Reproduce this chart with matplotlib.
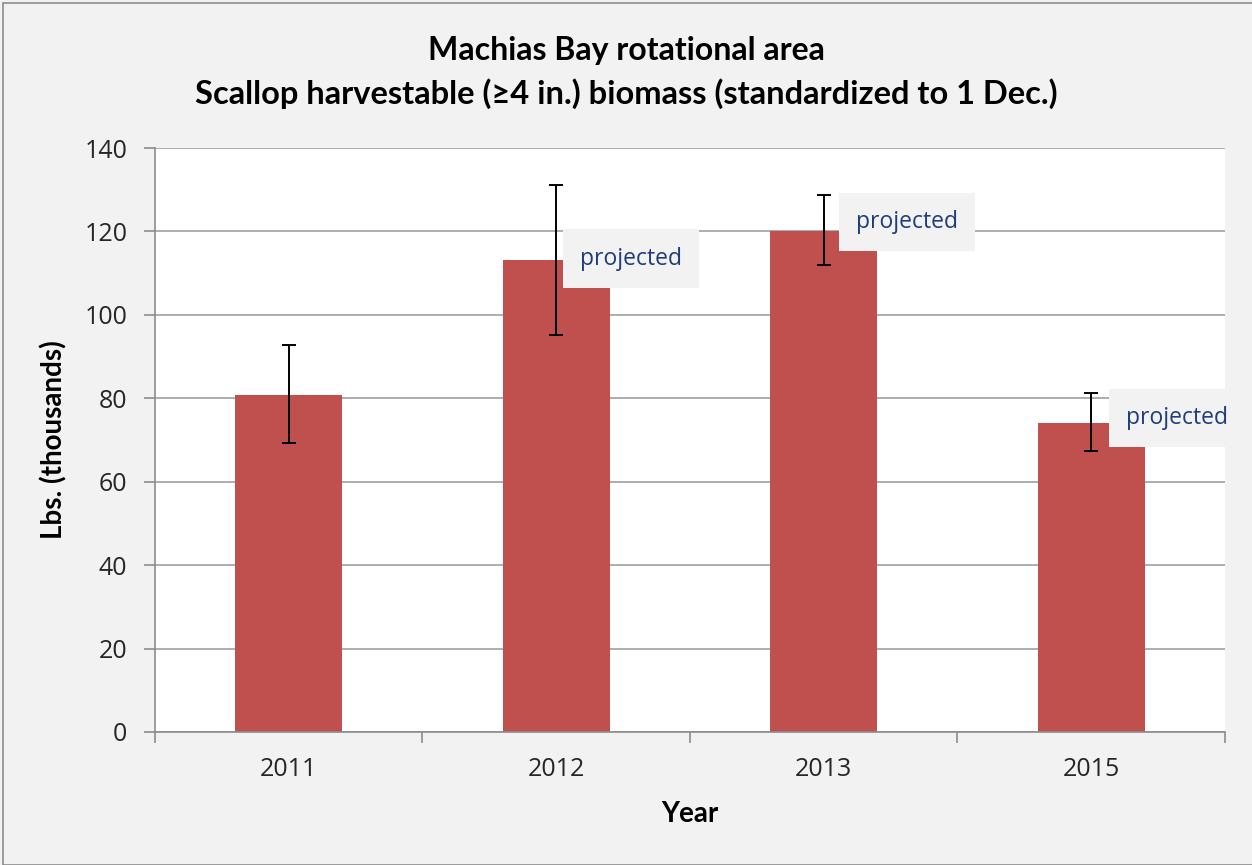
import matplotlib.pyplot as plt
import numpy as np
from matplotlib.patches import Rectangle

years = ['2011', '2012', '2013', '2015']
biomass = [80.8, 113.2, 120.1, 74.1]
err_low = [69.3, 95.2, 112.0, 67.4]
err_high = [92.8, 131.1, 128.7, 81.3]
projected = [False, True, True, True]

x = np.arange(len(years))
yerr = [np.array(biomass) - np.array(err_low), np.array(err_high) - np.array(biomass)]

fig = plt.figure(figsize=(12.52, 8.65), dpi=100)
fig.patch.set_facecolor('#f2f2f2')
fig.patches.append(Rectangle((0.002, 0.0), 1.0, 0.996, transform=fig.transFigure,
                             fill=False, edgecolor='#8c8c8c', lw=1.2))
ax = fig.add_axes([0.1238, 0.1538, 0.8546, 0.6751])
ax.set_facecolor('white')

ax.bar(x, biomass, width=0.4, color='#c0504d', zorder=2)
ax.errorbar(x, biomass, yerr=yerr, fmt='none', ecolor='black', elinewidth=1.4,
            capsize=5, capthick=1.4, zorder=3)

# "projected" labels
label_pos = [None, (1.09, 113.5), (2.12, 122.3), (3.13, 75.3)]
for i, p in enumerate(projected):
    if p:
        ax.text(label_pos[i][0], label_pos[i][1], 'projected', fontsize=16.5,
                family='Open Sans', color='#1f3d7a', va='center', ha='left', zorder=4,
                bbox=dict(boxstyle='square,pad=0.75', facecolor='#f2f2f2', edgecolor='none'),
                clip_on=False)

ax.set_xlim(-0.5, 3.5)
ax.set_ylim(0, 140)
ax.set_yticks(range(0, 141, 20))
ax.yaxis.grid(True, color='#a0a0a0', lw=1.2, zorder=0)
ax.set_axisbelow(True)

ax.set_xticks(x)
ax.set_xticklabels(years)
ax.set_xticks(np.arange(-0.5, 4.0, 1.0), minor=True)
ax.tick_params(axis='x', which='major', length=0, pad=18, labelsize=18, labelcolor='#262626')
ax.tick_params(axis='x', which='minor', length=8, width=1.2, color='#8c8c8c', direction='out')
ax.tick_params(axis='y', length=8, width=1.2, color='#8c8c8c', pad=12, labelsize=18,
               labelcolor='#262626')
for lab in ax.get_xticklabels() + ax.get_yticklabels():
    lab.set_family('Open Sans')

for s in ['top', 'right']:
    ax.spines[s].set_visible(False)
for s in ['left', 'bottom']:
    ax.spines[s].set_color('#8c8c8c')
    ax.spines[s].set_linewidth(1.2)

ax.set_xlabel('Year', fontsize=20, fontweight='bold', family='Lato', labelpad=14)
ax.set_ylabel('Lbs. (thousands)', fontsize=20, fontweight='bold', family='Lato', labelpad=12)

fig.text(0.5, 0.942, 'Machias Bay rotational area', ha='center', va='center',
         fontsize=23, fontweight='bold', family=['Lato', 'DejaVu Sans'])
fig.text(0.5, 0.892, 'Scallop harvestable (≥4 in.) biomass (standardized to 1 Dec.)',
         ha='center', va='center', fontsize=23.5, fontweight='bold', family=['Lato', 'DejaVu Sans'])

fig.savefig('out.png', dpi=100, facecolor=fig.get_facecolor())
